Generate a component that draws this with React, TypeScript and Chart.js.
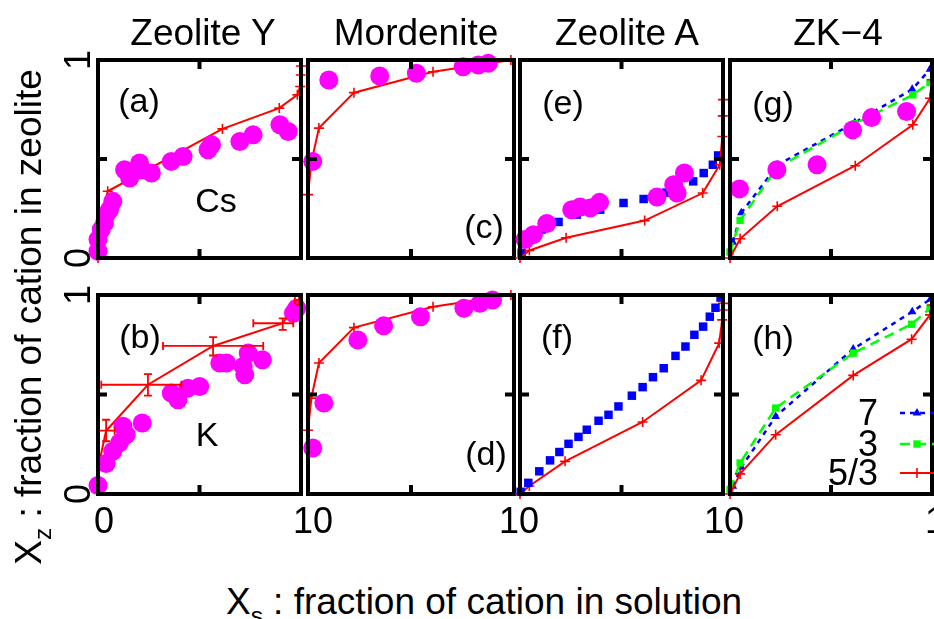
import React, { useEffect, useRef } from "react";
import { Chart, registerables } from "chart.js";

Chart.register(...registerables);

type P = [number, number];

// ---------------- text ----------------
const COLUMN_TITLES = ["Zeolite Y", "Mordenite", "Zeolite A", "ZK\u22124"];
const PANEL_LABELS = [
  ["(a)", "(c)", "(e)", "(g)"],
  ["(b)", "(d)", "(f)", "(h)"],
];
const CATION_LABELS = ["Cs", "K"];
const LEGEND_LABELS = ["7", "3", "5/3"];
const X_TICK_LABELS = ["0", "1"];
const Y_TICK_LABELS = ["0", "1"];
const X_TITLE = " : fraction of cation in solution";
const Y_TITLE = " : fraction of cation in zeolite";

// ---------------- data ----------------
// (a) Zeolite Y, Cs
const aExp: P[] = [
  [0.0, 0.034], [0.0, 0.093], [0.016, 0.144], [0.032, 0.177], [0.04, 0.219],
  [0.057, 0.244], [0.073, 0.286], [0.131, 0.446], [0.156, 0.404], [0.205, 0.48],
  [0.213, 0.446], [0.263, 0.429], [0.361, 0.488], [0.419, 0.513], [0.542, 0.547],
  [0.559, 0.572], [0.699, 0.588], [0.764, 0.622], [0.896, 0.673], [0.937, 0.639],
];
const aSim: P[] = [
  [0.0, 0.0], [0.002, 0.135], [0.048, 0.337], [0.613, 0.652], [0.893, 0.757],
  [0.982, 0.824], [0.996, 0.866], [0.999, 0.924], [1.0, 0.97],
];

// (b) Zeolite Y, K
const bExp: P[] = [
  [0.0, 0.043], [0.04, 0.153], [0.073, 0.215], [0.106, 0.257], [0.139, 0.298],
  [0.123, 0.34], [0.218, 0.357], [0.361, 0.507], [0.394, 0.474], [0.443, 0.532],
  [0.501, 0.54], [0.6, 0.658], [0.633, 0.658], [0.723, 0.599], [0.715, 0.641],
  [0.74, 0.708], [0.81, 0.674], [0.963, 0.908], [0.979, 0.933],
];
const bSim: P[] = [
  [0.0, 0.13], [0.04, 0.318], [0.246, 0.549], [0.567, 0.744], [0.91, 0.858], [0.99, 0.975],
];
const bErrX: P[] = [
  [0.0, 0.0], [0.0, 0.082], [0.016, 0.411], [0.32, 0.814], [0.765, 0.962], [0.97, 1.0],
];
const bErrY: P[] = [
  [0.13, 0.13], [0.265, 0.373], [0.494, 0.602], [0.696, 0.788], [0.825, 0.883], [0.95, 0.995],
];

// (c) Mordenite, Cs
const cExp: P[] = [
  [0.023, 0.488], [0.101, 0.899], [0.348, 0.919], [0.526, 0.933], [0.753, 0.966],
  [0.827, 0.975], [0.875, 0.983],
];
const cSim: P[] = [
  [0.0, 0.32], [0.016, 0.482], [0.053, 0.656], [0.223, 0.835], [0.607, 0.941], [0.985, 1.0],
];

// (d) Mordenite, K
const dExp: P[] = [
  [0.023, 0.231], [0.077, 0.457], [0.242, 0.774], [0.367, 0.845], [0.546, 0.891],
  [0.757, 0.933], [0.835, 0.958], [0.896, 0.975],
];
const dSim: P[] = [
  [0.0, 0.32], [0.016, 0.482], [0.053, 0.658], [0.223, 0.836], [0.607, 0.941], [0.985, 1.0],
];

// (e) Zeolite A, Cs
const eExp: P[] = [
  [0.025, 0.093], [0.066, 0.118], [0.132, 0.174], [0.255, 0.244], [0.296, 0.258],
  [0.346, 0.253], [0.392, 0.281], [0.675, 0.308], [0.757, 0.37], [0.774, 0.328],
  [0.81, 0.429],
];
const eSq: P[] = [
  [0.008, 0.026], [0.107, 0.144], [0.19, 0.182], [0.28, 0.219], [0.395, 0.244],
  [0.51, 0.278], [0.609, 0.298], [0.72, 0.33], [0.853, 0.387], [0.905, 0.429],
  [0.95, 0.471], [0.976, 0.518],
];
const eSim: P[] = [
  [0.0, 0.0], [0.046, 0.038], [0.227, 0.102], [0.614, 0.189], [0.9, 0.328],
  [0.984, 0.471], [0.997, 0.614], [0.999, 0.718], [1.0, 0.8],
];

// (f) Zeolite A, K
const fSq: P[] = [
  [0.003, 0.011], [0.041, 0.056], [0.095, 0.114], [0.148, 0.169], [0.194, 0.211],
  [0.239, 0.252], [0.288, 0.287], [0.329, 0.323], [0.387, 0.368], [0.436, 0.398],
  [0.485, 0.44], [0.551, 0.494], [0.604, 0.537], [0.655, 0.587], [0.708, 0.632],
  [0.766, 0.694], [0.815, 0.741], [0.859, 0.8], [0.902, 0.841], [0.935, 0.891],
  [0.963, 0.936], [0.988, 0.987],
];
const fSim: P[] = [
  [0.0, 0.0], [0.046, 0.04], [0.222, 0.164], [0.604, 0.362], [0.892, 0.571],
  [0.981, 0.758], [0.996, 0.875], [0.999, 0.925], [1.0, 0.958],
];

// (g) ZK-4, Cs
const gExp: P[] = [
  [0.047, 0.349], [0.232, 0.446], [0.431, 0.471], [0.607, 0.647], [0.701, 0.709], [0.874, 0.74],
];
const g7: P[] = [
  [0.014, 0.08], [0.056, 0.228], [0.237, 0.471], [0.618, 0.684], [0.902, 0.852], [0.99, 0.953],
];
const g3: P[] = [
  [0.0, 0.03], [0.05, 0.19], [0.232, 0.454], [0.618, 0.678], [0.905, 0.824], [0.99, 0.886],
];
const g53: P[] = [
  [0.0, 0.0], [0.05, 0.097], [0.234, 0.261], [0.62, 0.466], [0.905, 0.673], [0.99, 0.807], [1.0, 0.9],
];

// (h) ZK-4, K
const h7: P[] = [
  [0.014, 0.039], [0.056, 0.134], [0.226, 0.39], [0.61, 0.729], [0.902, 0.916], [0.993, 0.98],
];
const h3: P[] = [
  [0.0, 0.023], [0.05, 0.156], [0.226, 0.432], [0.61, 0.708], [0.899, 0.853], [0.99, 0.933],
];
const h53: P[] = [
  [0.0, 0.0], [0.05, 0.101], [0.226, 0.298], [0.61, 0.596], [0.899, 0.778], [0.99, 0.9], [1.0, 0.95],
];

// ---------------- layout / style ----------------
const FONT = '"Liberation Sans", Arial, Helvetica, sans-serif';
const MAGENTA = "#ff00ff";
const RED = "#ff0000";
const BLUE = "#0000ff";
const GREEN = "#00ff00";
const COL_LEFT = [98, 308, 520, 730];
const COL_WIDTH = [203, 206, 203, 202];
const ROW_TOP = [60, 295];
const ROW_HEIGHT = [198, 199];
const PAD = 16;

const pts = (d: P[]) => d.map(([x, y]) => ({ x, y }));

const expDs = (d: P[]) => ({
  data: pts(d), showLine: false, pointStyle: "circle", pointRadius: 9.5,
  pointBackgroundColor: MAGENTA, pointBorderColor: MAGENTA, pointBorderWidth: 0, clip: false,
});
const simDs = (d: P[], marker = true, extra: any = {}) => ({
  data: pts(d), showLine: true, borderColor: RED, backgroundColor: RED, borderWidth: 2,
  pointStyle: "cross", pointRadius: marker ? 5 : 0, pointBorderColor: RED, pointBorderWidth: 1.6,
  clip: false, ...extra,
});
const sqDs = (d: P[]) => ({
  data: pts(d), showLine: false, pointStyle: "rect", pointRadius: 6,
  pointBackgroundColor: BLUE, pointBorderColor: BLUE, pointBorderWidth: 0, clip: false,
});
const g3Ds = (d: P[]) => ({
  data: pts(d), showLine: true, borderColor: GREEN, backgroundColor: GREEN, borderWidth: 2.5,
  borderDash: [10, 6], pointStyle: "rect", pointRadius: 5.2,
  pointBackgroundColor: GREEN, pointBorderColor: GREEN, pointBorderWidth: 0, clip: false,
});
const b7Ds = (d: P[]) => ({
  data: pts(d), showLine: true, borderColor: BLUE, backgroundColor: BLUE, borderWidth: 2.5,
  borderDash: [5, 5], pointStyle: "triangle", pointRadius: 5,
  pointBackgroundColor: BLUE, pointBorderColor: BLUE, pointBorderWidth: 0, clip: false,
});

// ---------------- plugins ----------------
const errorBarPlugin = {
  id: "errorBars",
  afterDatasetsDraw(chart: any) {
    const ctx = chart.ctx;
    const xs = chart.scales.x, ys = chart.scales.y;
    chart.data.datasets.forEach((ds: any) => {
      if (!ds.errX || !ds.errY) return;
      ctx.save();
      ctx.strokeStyle = ds.borderColor;
      ctx.lineWidth = 1.8;
      ds.data.forEach((p: any, i: number) => {
        const cx = xs.getPixelForValue(p.x), cy = ys.getPixelForValue(p.y);
        const [xl, xh] = ds.errX[i];
        const [yl, yh] = ds.errY[i];
        const px1 = xs.getPixelForValue(xl), px2 = xs.getPixelForValue(xh);
        const py1 = ys.getPixelForValue(yl), py2 = ys.getPixelForValue(yh);
        const cap = 4;
        ctx.beginPath();
        if (px2 - px1 > 1) {
          ctx.moveTo(px1, cy); ctx.lineTo(px2, cy);
          ctx.moveTo(px1, cy - cap); ctx.lineTo(px1, cy + cap);
          ctx.moveTo(px2, cy - cap); ctx.lineTo(px2, cy + cap);
        }
        if (py1 - py2 > 1) {
          ctx.moveTo(cx, py1); ctx.lineTo(cx, py2);
          ctx.moveTo(cx - cap, py1); ctx.lineTo(cx + cap, py1);
          ctx.moveTo(cx - cap, py2); ctx.lineTo(cx + cap, py2);
        }
        ctx.stroke();
      });
      ctx.restore();
    });
  },
};

const framePlugin = {
  id: "frame",
  afterDatasetsDraw(chart: any) {
    const { ctx, chartArea } = chart;
    const { left, right, top, bottom } = chartArea;
    const xm = chart.scales.x.getPixelForValue(0.5);
    const ym = chart.scales.y.getPixelForValue(0.5);
    ctx.save();
    ctx.strokeStyle = "#000";
    ctx.lineWidth = 4;
    ctx.strokeRect(left, top, right - left, bottom - top);
    const t = 9;
    ctx.beginPath();
    ctx.moveTo(xm, top); ctx.lineTo(xm, top + t);
    ctx.moveTo(xm, bottom); ctx.lineTo(xm, bottom - t);
    ctx.moveTo(left, ym); ctx.lineTo(left + t, ym);
    ctx.moveTo(right, ym); ctx.lineTo(right - t, ym);
    ctx.stroke();
    ctx.restore();
  },
};

function drawMarker(ctx: any, style: string, x: number, y: number, r: number, color: string) {
  ctx.save();
  ctx.fillStyle = color;
  ctx.strokeStyle = color;
  ctx.setLineDash([]);
  ctx.beginPath();
  if (style === "triangle") {
    ctx.moveTo(x, y - r);
    ctx.lineTo(x + r * 0.866, y + r * 0.5);
    ctx.lineTo(x - r * 0.866, y + r * 0.5);
    ctx.closePath();
    ctx.fill();
  } else if (style === "rect") {
    const s = r * Math.SQRT1_2;
    ctx.rect(x - s, y - s, 2 * s, 2 * s);
    ctx.fill();
  } else {
    ctx.lineWidth = 1.6;
    ctx.moveTo(x - r, y); ctx.lineTo(x + r, y);
    ctx.moveTo(x, y - r); ctx.lineTo(x, y + r);
    ctx.stroke();
  }
  ctx.restore();
}

const keyPlugin = {
  id: "keySamples",
  afterDraw(chart: any, _args: any, opts: any) {
    if (!opts || !opts.items) return;
    const { ctx, chartArea } = chart;
    opts.items.forEach((it: any) => {
      const ds = chart.data.datasets[it.dataset];
      const y = chartArea.top + it.y;
      ctx.save();
      ctx.strokeStyle = ds.borderColor;
      ctx.lineWidth = ds.borderWidth;
      ctx.setLineDash(ds.borderDash || []);
      ctx.beginPath();
      ctx.moveTo(chartArea.left + it.x1, y);
      ctx.lineTo(chartArea.left + it.x2, y);
      ctx.stroke();
      ctx.restore();
      drawMarker(ctx, ds.pointStyle, chartArea.left + it.xm, y, ds.pointRadius, ds.borderColor);
    });
  },
};

// ---------------- components ----------------
type PanelProps = { col: number; row: number; datasets: any[]; keyItems?: any[] };

function Panel({ col, row, datasets, keyItems }: PanelProps) {
  const ref = useRef<HTMLCanvasElement | null>(null);
  const w = COL_WIDTH[col] + 2 * PAD;
  const h = ROW_HEIGHT[row] + 2 * PAD;
  useEffect(() => {
    if (!ref.current) return;
    const chart = new Chart(ref.current, {
      type: "scatter",
      data: { datasets },
      options: {
        animation: false,
        responsive: false,
        maintainAspectRatio: false,
        events: [],
        layout: { padding: PAD },
        scales: {
          x: { type: "linear", min: 0, max: 1, display: false },
          y: { type: "linear", min: 0, max: 1, display: false },
        },
        plugins: {
          legend: { display: false },
          tooltip: { enabled: false },
          keySamples: { items: keyItems || [] },
        } as any,
      },
      plugins: [errorBarPlugin, framePlugin, keyPlugin],
    } as any);
    return () => chart.destroy();
  }, []);
  return (
    <canvas
      ref={ref}
      width={w}
      height={h}
      style={{ position: "absolute", left: COL_LEFT[col] - PAD, top: ROW_TOP[row] - PAD, width: w, height: h }}
    />
  );
}

type TxtProps = {
  x: number; y: number; children: any; size?: number; anchor?: "c" | "l" | "r"; rotate?: number;
};
function Txt({ x, y, children, size = 36, anchor = "c", rotate = 0 }: TxtProps) {
  const tx = anchor === "c" ? "-50%" : anchor === "r" ? "-100%" : "0";
  return (
    <div
      style={{
        position: "absolute", left: x, top: y, fontSize: size, lineHeight: 1, whiteSpace: "nowrap",
        transform: `translate(${tx}, -50%) rotate(${rotate}deg)`, color: "#000",
      }}
    >
      {children}
    </div>
  );
}

const SUB: React.CSSProperties = { fontSize: "0.66em", position: "relative", top: "0.4em" };

export default function App() {
  useEffect(() => {
    document.body.style.margin = "0";
  }, []);

  const panels: PanelProps[] = [
    { col: 0, row: 0, datasets: [expDs(aExp), simDs(aSim)] },
    { col: 0, row: 1, datasets: [expDs(bExp), simDs(bSim, false, { errX: bErrX, errY: bErrY })] },
    { col: 1, row: 0, datasets: [expDs(cExp), simDs(cSim)] },
    { col: 1, row: 1, datasets: [expDs(dExp), simDs(dSim)] },
    { col: 2, row: 0, datasets: [expDs(eExp), simDs(eSim), sqDs(eSq)] },
    { col: 2, row: 1, datasets: [sqDs(fSq), simDs(fSim)] },
    { col: 3, row: 0, datasets: [expDs(gExp), simDs(g53), g3Ds(g3), b7Ds(g7)] },
    {
      col: 3, row: 1, datasets: [simDs(h53), g3Ds(h3), b7Ds(h7)],
      keyItems: [
        { dataset: 2, x1: 170, x2: 215, xm: 187, y: 118 },
        { dataset: 1, x1: 170, x2: 215, xm: 187, y: 149 },
        { dataset: 0, x1: 170, x2: 215, xm: 187, y: 178 },
      ],
    },
  ];

  const titleX = [203, 416, 627, 838];
  const labelPos = [
    [[139, 100], [484, 226], [563, 102], [773, 103]],
    [[140, 336], [486, 453], [557, 336], [773, 337]],
  ];

  return (
    <div
      style={{
        position: "fixed", left: 0, top: 0, width: 934, height: 619, overflow: "hidden",
        background: "#fff", fontFamily: FONT,
      }}
    >
      {panels.map((p) => (
        <Panel key={`${p.col}-${p.row}`} {...p} />
      ))}

      {COLUMN_TITLES.map((t, i) => (
        <Txt key={t} x={titleX[i]} y={32} size={37}>{t}</Txt>
      ))}

      {PANEL_LABELS.map((row, r) =>
        row.map((lab, c) => (
          <Txt key={lab} x={labelPos[r][c][0]} y={labelPos[r][c][1]} size={34}>{lab}</Txt>
        ))
      )}

      <Txt x={216} y={200} size={34}>{CATION_LABELS[0]}</Txt>
      <Txt x={207} y={434} size={34}>{CATION_LABELS[1]}</Txt>

      <Txt x={878} y={413} anchor="r">{LEGEND_LABELS[0]}</Txt>
      <Txt x={878} y={444} anchor="r">{LEGEND_LABELS[1]}</Txt>
      <Txt x={878} y={473} anchor="r">{LEGEND_LABELS[2]}</Txt>

      {/* y tick labels (rotated) */}
      {ROW_TOP.map((t, r) => (
        <React.Fragment key={`yt${r}`}>
          <Txt x={78} y={t} rotate={-90}>{Y_TICK_LABELS[1]}</Txt>
          <Txt x={78} y={t + ROW_HEIGHT[r]} rotate={-90}>{Y_TICK_LABELS[0]}</Txt>
        </React.Fragment>
      ))}

      {/* x tick labels */}
      <Txt x={104} y={521}>{X_TICK_LABELS[0]}</Txt>
      {[313, 519, 724].map((x) => (
        <React.Fragment key={`xt${x}`}>
          <Txt x={x} y={521} anchor="r">{X_TICK_LABELS[1]}</Txt>
          <Txt x={x} y={521} anchor="l">{X_TICK_LABELS[0]}</Txt>
        </React.Fragment>
      ))}
      <Txt x={925} y={521} anchor="l">{X_TICK_LABELS[1]}</Txt>

      {/* axis titles */}
      <Txt x={484} y={601} size={37}>
        <span>X<span style={SUB}>s</span>{X_TITLE}</span>
      </Txt>
      <Txt x={28} y={317} rotate={-90} size={37}>
        <span>X<span style={SUB}>z</span>{Y_TITLE}</span>
      </Txt>
    </div>
  );
}
